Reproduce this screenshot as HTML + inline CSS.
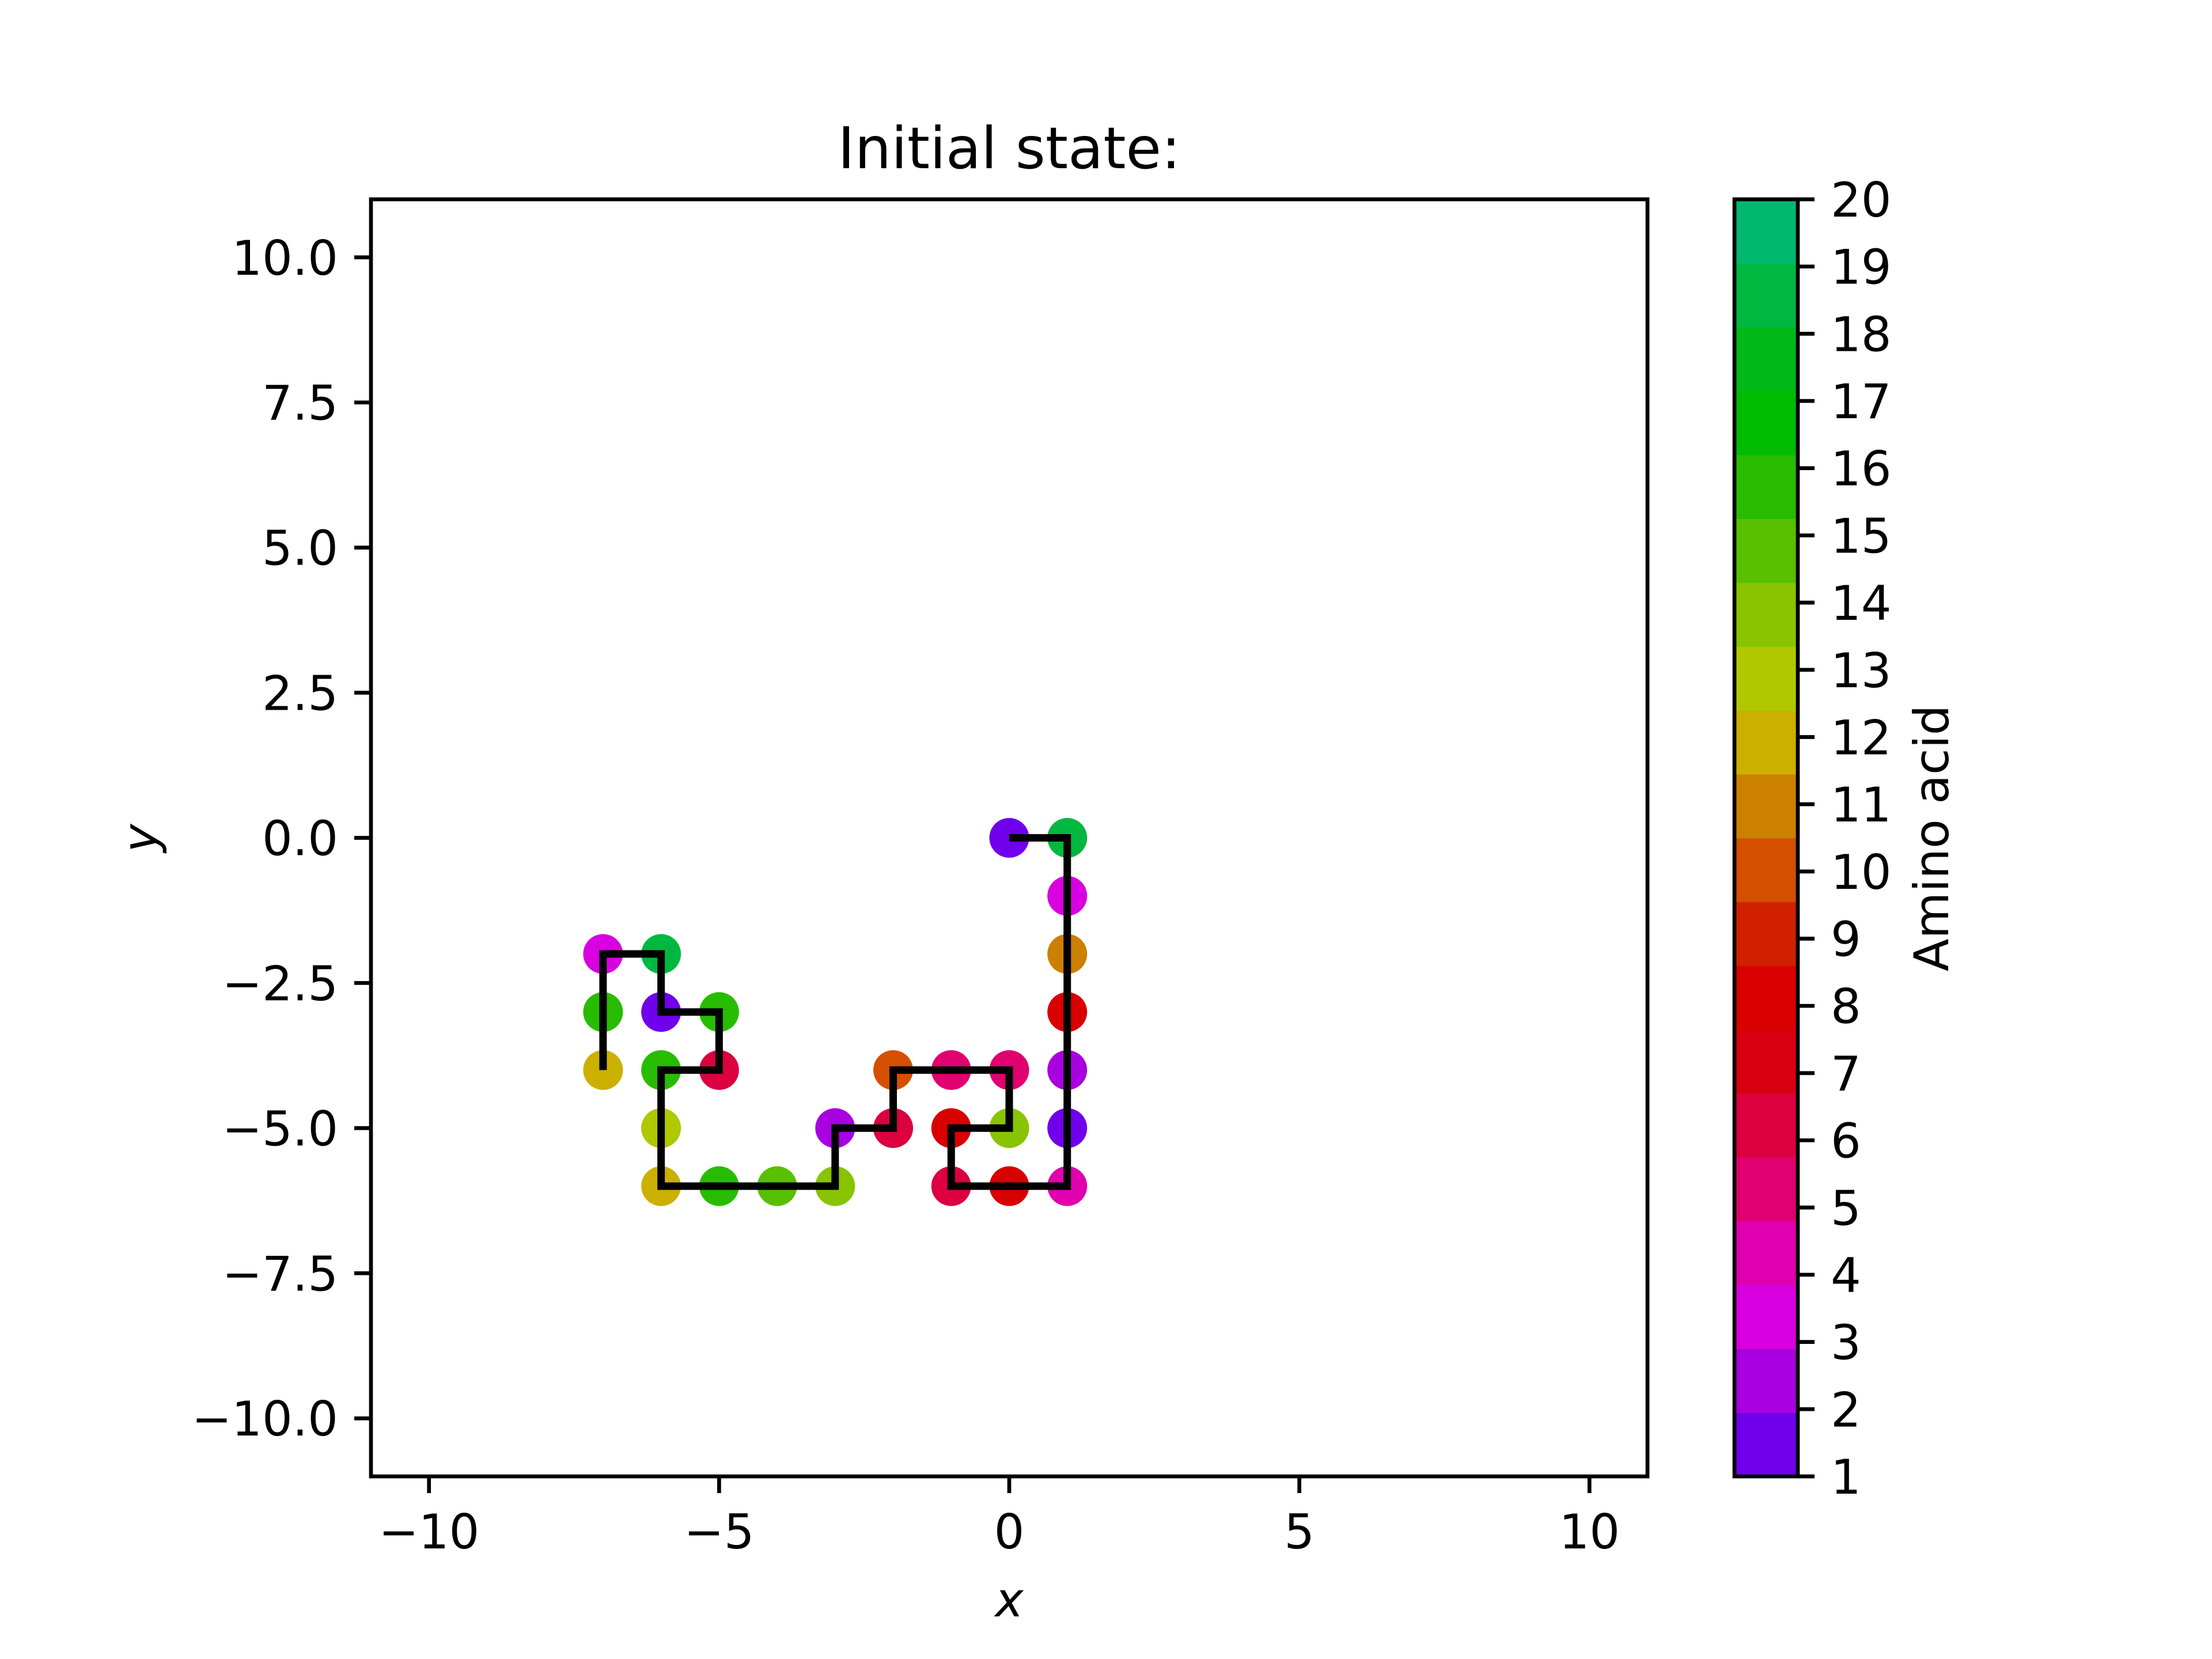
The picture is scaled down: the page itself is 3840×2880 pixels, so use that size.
<!DOCTYPE html>
<html><head><meta charset="utf-8"><style>
html,body{margin:0;padding:0;background:#fff}
svg{display:block}
text{font-family:"DejaVu Sans","Liberation Sans",sans-serif;fill:#000}
</style></head><body>
<svg id="chart" width="3840" height="2880" viewBox="0 0 3840 2880" xmlns="http://www.w3.org/2000/svg">
<rect width="3840" height="2880" fill="#fff"/>
<text x="1752" y="292" font-size="100" text-anchor="middle">Initial state:</text>
<g id="plot"></g>
<g id="axes"></g>
<g id="cbar"></g>
<text x="1752" y="2806" font-size="83" font-style="italic" text-anchor="middle">x</text>
<text transform="translate(272,1455) rotate(-90)" font-size="83" font-style="italic" text-anchor="middle">y</text>
<text transform="translate(3382,1455) rotate(-90)" font-size="83" text-anchor="middle">Amino acid</text>
</svg>
<script>
const xs = [0,1,1,1,1,1,1,1,0,-1,-1,0,0,-1,-2,-2,-3,-3,-4,-5,-6,-6,-6,-5,-5,-6,-6,-7,-7,-7];
const ys = [0,0,-1,-2,-3,-4,-5,-6,-6,-6,-5,-5,-4,-4,-4,-5,-5,-6,-6,-6,-6,-5,-4,-4,-3,-3,-2,-2,-3,-4];
const aminoValues = [1,19,3,11,8,2,1,4,8,6,8,14,5,5,10,6,2,14,15,16,12,13,16,6,16,1,19,3,16,12];
const binColors = ["#7000ec","#a800e0","#d800e0","#e000b0","#e00070","#dc0040","#d80010","#d80000","#d02000","#d45000","#cc8000","#ccb000","#b0c800","#88c400","#58c000","#28bc00","#00bc00","#00b818","#00b840","#00b870"];
const xTicks = [-10,-5,0,5,10];
const xTickLabels = ["\u221210","\u22125","0","5","10"];
const yTicks = [10,7.5,5,2.5,0,-2.5,-5,-7.5,-10];
const yTickLabels = ["10.0","7.5","5.0","2.5","0.0","\u22122.5","\u22125.0","\u22127.5","\u221210.0"];
const cbTicks = [1,2,3,4,5,6,7,8,9,10,11,12,13,14,15,16,17,18,19,20];

const NS="http://www.w3.org/2000/svg";
const L=644,R=2860,T=346,B=2563, xmin=-11,xmax=11,ymin=-11,ymax=11;
const sx=v=>L+(v-xmin)/(xmax-xmin)*(R-L);
const sy=v=>B-(v-ymin)/(ymax-ymin)*(B-T);
const CL=3011,CR=3121,vmin=1,vmax=20;
const cy=v=>B-(v-vmin)/(vmax-vmin)*(B-T);
function mk(tag,attrs,parent){const e=document.createElementNS(NS,tag);for(const k in attrs)e.setAttribute(k,attrs[k]);parent.appendChild(e);return e;}
function colorOf(v){let i=Math.floor((v-vmin)/(vmax-vmin)*binColors.length);i=Math.max(0,Math.min(binColors.length-1,i));return binColors[i];}

const plot=document.getElementById('plot');
for(let i=0;i<xs.length;i++){
  const c=mk('circle',{cx:sx(xs[i]),cy:sy(ys[i]),r:34.5,fill:colorOf(aminoValues[i])},plot);
  
  
}
const pts=xs.map((x,i)=>sx(x)+','+sy(ys[i])).join(' ');
const pl=mk('polyline',{points:pts,fill:'none',stroke:'#000','stroke-width':13,'stroke-linejoin':'miter','stroke-linecap':'butt'},plot);



const axes=document.getElementById('axes');
const fr=mk('rect',{x:L,y:T,width:R-L,height:B-T,fill:'none',stroke:'#000','stroke-width':6.7},axes);


xTicks.forEach((v,i)=>{
  const t=mk('line',{x1:sx(v),x2:sx(v),y1:B,y2:B+29,stroke:'#000','stroke-width':6.7},axes);
  
  
  const tx=mk('text',{x:sx(v),y:B+125,'font-size':83,'text-anchor':'middle'},axes);
  tx.textContent=xTickLabels[i];
  
  
});
yTicks.forEach((v,i)=>{
  const t=mk('line',{x1:L-29,x2:L,y1:sy(v),y2:sy(v),stroke:'#000','stroke-width':6.7},axes);
  
  
  const tx=mk('text',{x:L-57,y:sy(v)+30,'font-size':83,'text-anchor':'end'},axes);
  tx.textContent=yTickLabels[i];
  
  
});

const cb=document.getElementById('cbar');
const n=binColors.length, bh=(B-T)/n;
binColors.forEach((c,i)=>{
  const r=mk('rect',{x:CL,y:B-(i+1)*bh,width:CR-CL,height:bh+0.8,fill:c},cb);
  
  
});
const cf=mk('rect',{x:CL,y:T,width:CR-CL,height:B-T,fill:'none',stroke:'#000','stroke-width':6.7},cb);


cbTicks.forEach(v=>{
  const t=mk('line',{x1:CR,x2:CR+29,y1:cy(v),y2:cy(v),stroke:'#000','stroke-width':6.7},cb);
  
  
  const tx=mk('text',{x:CR+57,y:cy(v)+30,'font-size':83},cb);
  tx.textContent=String(v);
  
  
});
</script>
</body></html>
